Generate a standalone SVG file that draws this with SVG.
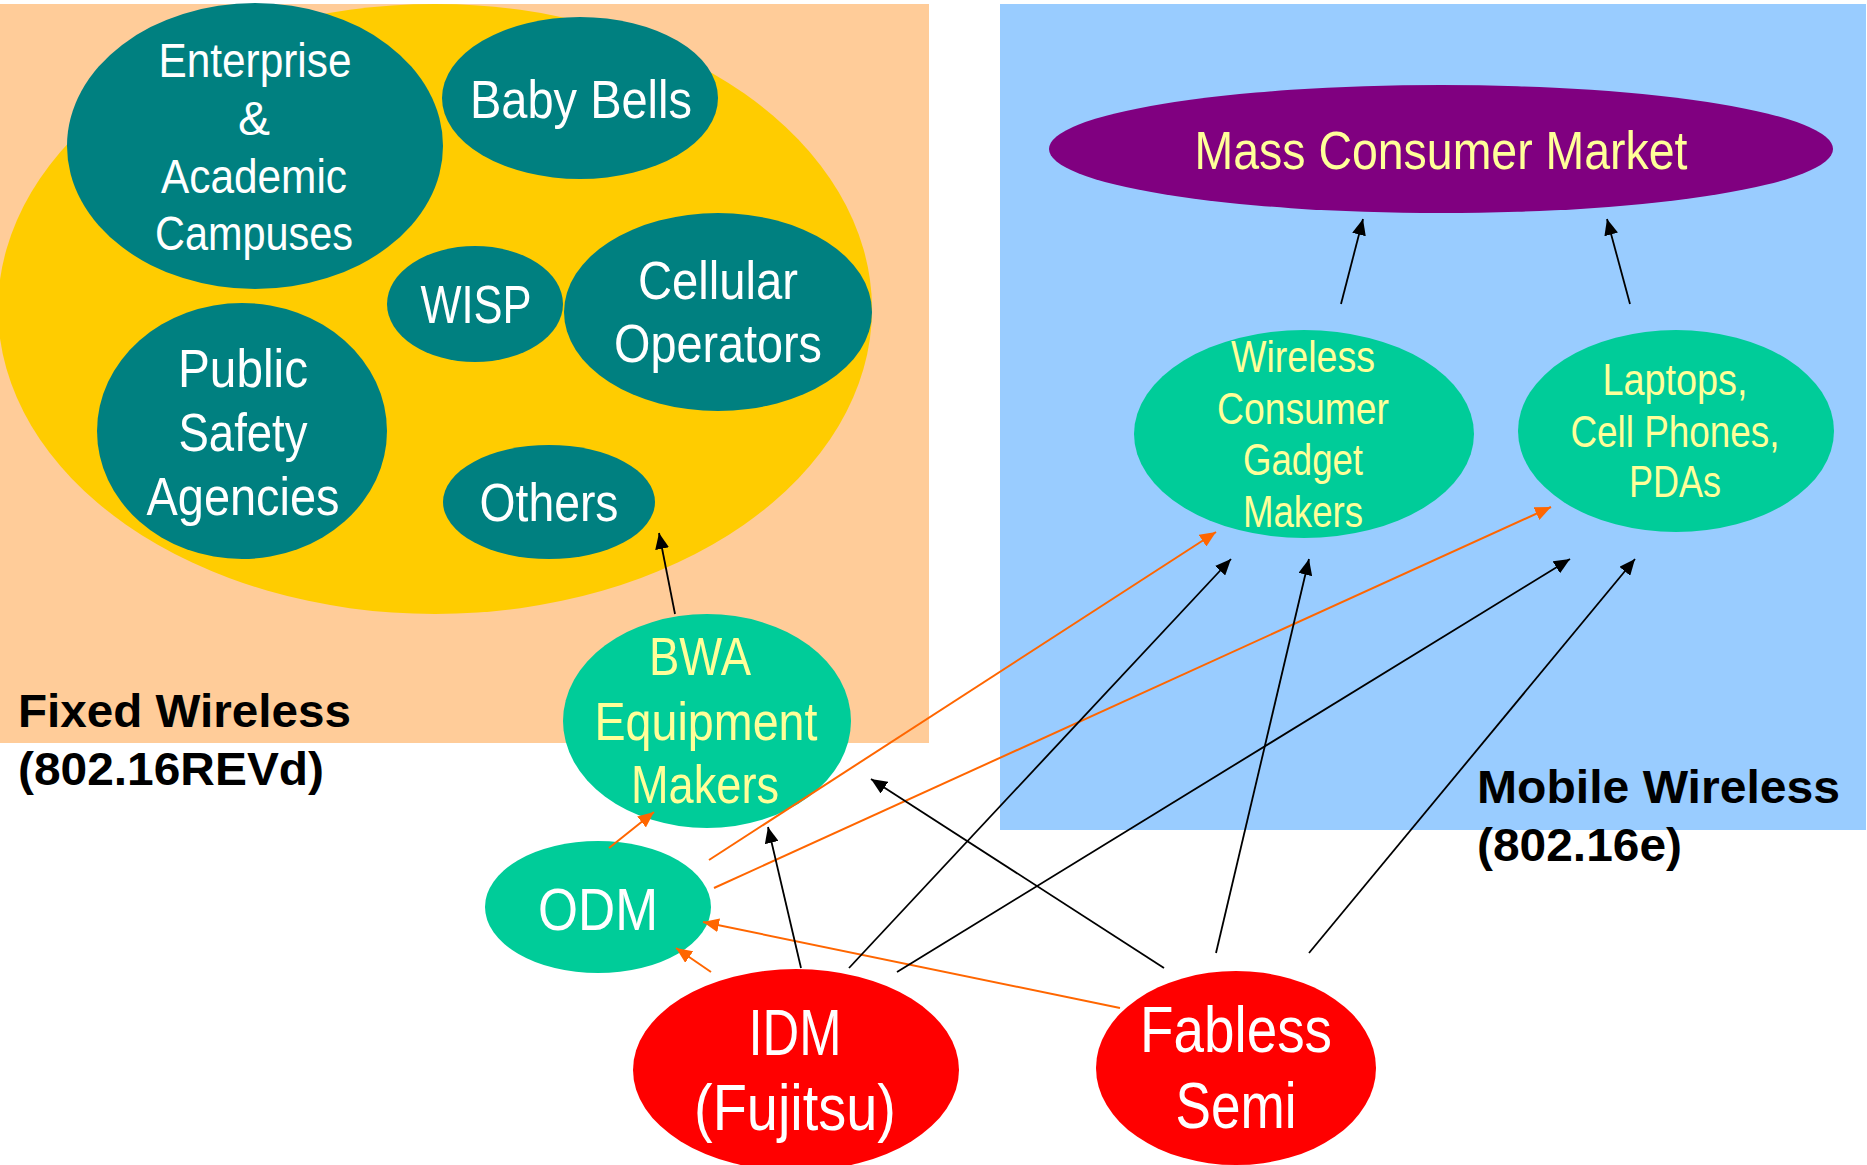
<svg xmlns="http://www.w3.org/2000/svg" width="1867" height="1165" viewBox="0 0 1867 1165">
<defs>
<style>
.n{font-family:"Liberation Sans Narrow","Liberation Sans",Arial,sans-serif;text-anchor:middle}
.w{fill:#FFFFFF}
.y{fill:#FFFF99}
.lbl{font-family:"Liberation Sans",Arial,sans-serif;font-weight:bold;fill:#000000;font-size:47px}
.teal{fill:#008080}
.grn{fill:#00CC99}
.red{fill:#FF0000}
.blk{stroke:#000000;stroke-width:1.8;fill:none;marker-end:url(#ab)}
.org{stroke:#FF6600;stroke-width:2;fill:none;marker-end:url(#ao)}
</style>
<marker id="ab" markerUnits="userSpaceOnUse" markerWidth="18" markerHeight="14" refX="16" refY="7" orient="auto"><path d="M0,0 L16,7 L0,14 Z" fill="#000000"/></marker>
<marker id="ao" markerUnits="userSpaceOnUse" markerWidth="18" markerHeight="14" refX="16" refY="7" orient="auto"><path d="M0,0 L16,7 L0,14 Z" fill="#FF6600"/></marker>
</defs>
<rect width="1867" height="1165" fill="#FFFFFF"/>
<g id="fixed-region">
<rect x="0" y="4" width="929" height="739" fill="#FFCC99"/>
<ellipse cx="435" cy="309" rx="437" ry="305" fill="#FFCC00"/>
<text class="lbl" x="18" y="727" textLength="333" lengthAdjust="spacingAndGlyphs">Fixed Wireless</text>
<text class="lbl" x="18" y="785" textLength="306" lengthAdjust="spacingAndGlyphs">(802.16REVd)</text>
</g>
<g id="mobile-region">
<rect x="1000" y="4" width="866" height="826" fill="#99CCFF"/>
<text class="lbl" x="1477" y="803" textLength="363" lengthAdjust="spacingAndGlyphs">Mobile Wireless</text>
<text class="lbl" x="1477" y="861" textLength="205" lengthAdjust="spacingAndGlyphs">(802.16e)</text>
</g>
<g id="enterprise">
<ellipse class="teal" cx="255" cy="146" rx="188" ry="143"/>
<text class="n w" font-size="48" x="255" y="77" textLength="193" lengthAdjust="spacingAndGlyphs">Enterprise</text>
<text class="n w" font-size="48" x="254" y="135">&amp;</text>
<text class="n w" font-size="48" x="254" y="193" textLength="186" lengthAdjust="spacingAndGlyphs">Academic</text>
<text class="n w" font-size="48" x="254" y="250" textLength="198" lengthAdjust="spacingAndGlyphs">Campuses</text>
</g>
<g id="baby-bells">
<ellipse class="teal" cx="580" cy="98" rx="138" ry="81"/>
<text class="n w" font-size="54" x="581" y="118" textLength="222" lengthAdjust="spacingAndGlyphs">Baby Bells</text>
</g>
<g id="wisp">
<ellipse class="teal" cx="475" cy="304" rx="88" ry="58"/>
<text class="n w" font-size="54" x="476" y="323" textLength="111" lengthAdjust="spacingAndGlyphs">WISP</text>
</g>
<g id="cellular">
<ellipse class="teal" cx="718" cy="312" rx="154" ry="99"/>
<text class="n w" font-size="54" x="718" y="299" textLength="160" lengthAdjust="spacingAndGlyphs">Cellular</text>
<text class="n w" font-size="54" x="718" y="362" textLength="208" lengthAdjust="spacingAndGlyphs">Operators</text>
</g>
<g id="public-safety">
<ellipse class="teal" cx="242" cy="431" rx="145" ry="128"/>
<text class="n w" font-size="54" x="243" y="387" textLength="130" lengthAdjust="spacingAndGlyphs">Public</text>
<text class="n w" font-size="54" x="243" y="451" textLength="129" lengthAdjust="spacingAndGlyphs">Safety</text>
<text class="n w" font-size="54" x="243" y="515" textLength="193" lengthAdjust="spacingAndGlyphs">Agencies</text>
</g>
<g id="others">
<ellipse class="teal" cx="549" cy="502" rx="106" ry="57"/>
<text class="n w" font-size="54" x="549" y="521" textLength="139" lengthAdjust="spacingAndGlyphs">Others</text>
</g>
<g id="mass-consumer-market">
<ellipse cx="1441" cy="149" rx="392" ry="64" fill="#800080"/>
<text class="n y" font-size="54" x="1441" y="169" textLength="493" lengthAdjust="spacingAndGlyphs">Mass Consumer Market</text>
</g>
<g id="gadget-makers">
<ellipse class="grn" cx="1304" cy="434" rx="170" ry="104"/>
<text class="n y" font-size="44" x="1303" y="372" textLength="144" lengthAdjust="spacingAndGlyphs">Wireless</text>
<text class="n y" font-size="44" x="1303" y="424" textLength="172" lengthAdjust="spacingAndGlyphs">Consumer</text>
<text class="n y" font-size="44" x="1303" y="475" textLength="120" lengthAdjust="spacingAndGlyphs">Gadget</text>
<text class="n y" font-size="44" x="1303" y="527" textLength="120" lengthAdjust="spacingAndGlyphs">Makers</text>
</g>
<g id="laptops">
<ellipse class="grn" cx="1676" cy="431" rx="158" ry="101"/>
<text class="n y" font-size="44" x="1675" y="395" textLength="145" lengthAdjust="spacingAndGlyphs">Laptops,</text>
<text class="n y" font-size="44" x="1675" y="447" textLength="209" lengthAdjust="spacingAndGlyphs">Cell Phones,</text>
<text class="n y" font-size="44" x="1675" y="497" textLength="92" lengthAdjust="spacingAndGlyphs">PDAs</text>
</g>
<g id="bwa">
<ellipse class="grn" cx="707" cy="721" rx="144" ry="107"/>
<text class="n y" font-size="54" x="700" y="675" textLength="102" lengthAdjust="spacingAndGlyphs">BWA</text>
<text class="n y" font-size="54" x="706" y="740" textLength="223" lengthAdjust="spacingAndGlyphs">Equipment</text>
<text class="n y" font-size="54" x="705" y="803" textLength="148" lengthAdjust="spacingAndGlyphs">Makers</text>
</g>
<g id="odm">
<ellipse class="grn" cx="598" cy="907" rx="113" ry="66"/>
<text class="n w" font-size="60" x="598" y="930" textLength="120" lengthAdjust="spacingAndGlyphs">ODM</text>
</g>
<g id="idm">
<ellipse class="red" cx="796" cy="1070" rx="163" ry="101"/>
<text class="n w" font-size="64" x="795" y="1055" textLength="93" lengthAdjust="spacingAndGlyphs">IDM</text>
<text class="n w" font-size="64" x="795" y="1130" textLength="202" lengthAdjust="spacingAndGlyphs">(Fujitsu)</text>
</g>
<g id="fabless">
<ellipse class="red" cx="1236" cy="1068" rx="140" ry="97"/>
<text class="n w" font-size="64" x="1236" y="1052" textLength="192" lengthAdjust="spacingAndGlyphs">Fabless</text>
<text class="n w" font-size="64" x="1236" y="1128" textLength="121" lengthAdjust="spacingAndGlyphs">Semi</text>
</g>
<g id="connectors">
<line class="blk" x1="1341" y1="304" x2="1363" y2="219"/>
<line class="blk" x1="1630" y1="304" x2="1607" y2="219"/>
<line class="blk" x1="675" y1="614" x2="659" y2="533"/>
<line class="org" x1="609" y1="848" x2="654" y2="812"/>
<line class="org" x1="711" y1="972" x2="676" y2="948"/>
<line class="org" x1="1120" y1="1008" x2="703" y2="922"/>
<line class="org" x1="709" y1="860" x2="1216" y2="532"/>
<line class="org" x1="714" y1="888" x2="1551" y2="507"/>
<line class="blk" x1="801" y1="968" x2="768" y2="827"/>
<line class="blk" x1="849" y1="968" x2="1231" y2="559"/>
<line class="blk" x1="897" y1="972" x2="1570" y2="559"/>
<line class="blk" x1="1164" y1="968" x2="871" y2="779"/>
<line class="blk" x1="1216" y1="953" x2="1309" y2="559"/>
<line class="blk" x1="1309" y1="953" x2="1635" y2="559"/>
</g>
</svg>
